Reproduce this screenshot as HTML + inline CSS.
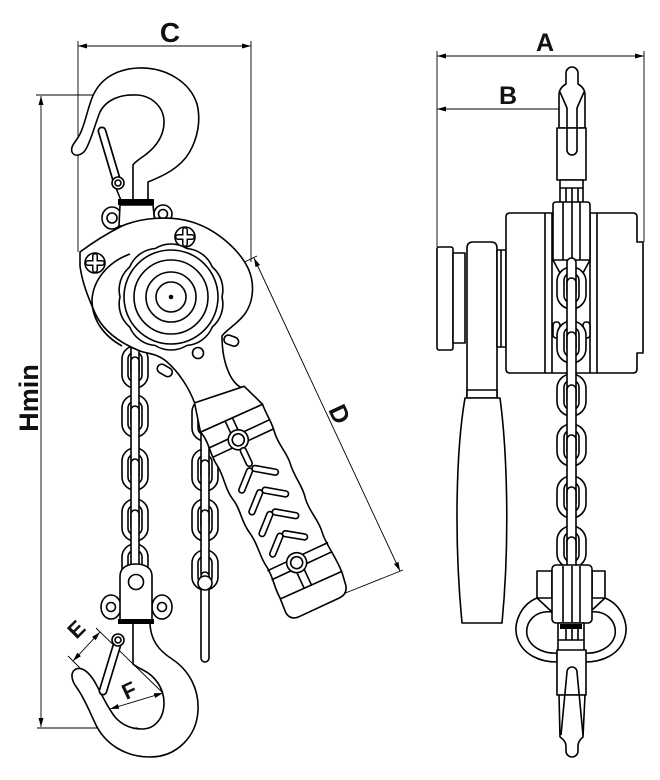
<!DOCTYPE html>
<html><head><meta charset="utf-8"><style>
html,body{margin:0;padding:0;background:#fff;}
svg{display:block;}
text{font-family:"Liberation Sans",Arial,sans-serif;font-weight:bold;fill:#111;}
</style></head><body>
<svg width="660" height="780" viewBox="0 0 660 780" xmlns="http://www.w3.org/2000/svg">
<defs>
<marker id="a" markerUnits="userSpaceOnUse" markerWidth="9" markerHeight="5" refX="9" refY="2.5" orient="auto-start-reverse" viewBox="0 0 9 5"><path d="M0,0 L9,2.5 L0,5 Z" fill="#000"/></marker>
</defs>

<!-- dimension lines -->
<g fill="none" stroke="#000" stroke-width="0.9">
 <line x1="78" y1="46" x2="251" y2="46" marker-start="url(#a)" marker-end="url(#a)"/>
 <line x1="78" y1="41" x2="78" y2="252"/>
 <line x1="251" y1="41" x2="251" y2="262"/>
 <line x1="41" y1="96" x2="41" y2="727" marker-start="url(#a)" marker-end="url(#a)"/>
 <line x1="36" y1="95" x2="140" y2="95"/>
 <line x1="37" y1="728" x2="138" y2="728"/>
 <line x1="171" y1="297" x2="257" y2="256"/>
 <line x1="254" y1="258" x2="400" y2="571" marker-start="url(#a)" marker-end="url(#a)"/>
 <line x1="403" y1="570" x2="343" y2="594"/>
 <line x1="437" y1="56" x2="644" y2="56" marker-start="url(#a)" marker-end="url(#a)"/>
 <line x1="437" y1="51" x2="437" y2="247"/>
 <line x1="644" y1="51" x2="644" y2="242"/>
 <line x1="437" y1="109" x2="571" y2="109" marker-start="url(#a)" marker-end="url(#a)"/>
 <line x1="571" y1="100" x2="571" y2="192"/>
 <line x1="100" y1="632" x2="73" y2="661" marker-start="url(#a)" marker-end="url(#a)"/>
 <line x1="96" y1="628" x2="164" y2="694"/>
 <line x1="68" y1="656" x2="80" y2="668"/>
 <line x1="110" y1="709" x2="163" y2="693" marker-start="url(#a)" marker-end="url(#a)"/>
</g>

<g fill="#fff" stroke="#000" stroke-width="1.6" stroke-linejoin="round">
 <!-- LEFT VIEW: load chain -->
 <rect x="122" y="346" width="26" height="42" rx="13"/><rect x="128" y="352" width="14" height="30" rx="7"/>
 <rect x="122" y="395" width="26" height="42" rx="13"/><rect x="128" y="401" width="14" height="30" rx="7"/>
 <rect x="122" y="448" width="26" height="42" rx="13"/><rect x="128" y="454" width="14" height="30" rx="7"/>
 <rect x="122" y="499" width="26" height="42" rx="13"/><rect x="128" y="505" width="14" height="30" rx="7"/>
 <rect x="122" y="544" width="26" height="42" rx="13"/><rect x="128" y="550" width="14" height="30" rx="7"/>
 <rect x="131" y="340" width="8" height="37" rx="4"/>
 <rect x="131" y="357" width="8" height="69" rx="4"/>
 <rect x="131" y="406" width="8" height="73" rx="4"/>
 <rect x="131" y="459" width="8" height="71" rx="4"/>
 <rect x="131" y="510" width="8" height="65" rx="4"/>

 <!-- hand chain -->
 <rect x="192" y="399" width="26" height="42" rx="13"/><rect x="198" y="405" width="14" height="30" rx="7"/>
 <rect x="192" y="449" width="26" height="42" rx="13"/><rect x="198" y="455" width="14" height="30" rx="7"/>
 <rect x="192" y="499" width="26" height="42" rx="13"/><rect x="198" y="505" width="14" height="30" rx="7"/>
 <rect x="192" y="550" width="26" height="40" rx="13"/><rect x="198" y="556" width="14" height="28" rx="7"/>
 <rect x="201" y="405" width="8" height="75" rx="4"/>
 <rect x="201" y="460" width="8" height="70" rx="4"/>
 <rect x="201" y="510" width="8" height="68" rx="4"/>
 <rect x="201" y="572" width="8" height="90" rx="4"/>
 <circle cx="205" cy="583" r="7"/>

 <!-- top hook -->
 <path d="M148,203 L148,182 C163,176 180,168 189,153 C198,138 201,120 197,104 C190,82 166,67 138,68 C115,69 99,80 92,98 C87,111 85,124 80,134 C76,142 70,146 72,152 C74,157 82,156 86,149 C92,138 95,124 100,112 C106,100 120,94 137,95 C153,96 164,108 164,122 C164,138 153,150 141,158 C137,161 134,163 133,165 L133,203"/>
 <path d="M116,188 L122,203" fill="none"/>
 <line x1="102" y1="131" x2="116" y2="178" stroke-width="9" stroke-linecap="round"/>
 <line x1="102" y1="131" x2="116" y2="178" stroke="#fff" stroke-width="5.6" stroke-linecap="round"/>
 <circle cx="118" cy="183" r="6"/><circle cx="118" cy="183" r="3"/>

 <!-- top bracket -->
 <ellipse cx="112" cy="218" rx="10" ry="11"/><circle cx="112" cy="218" r="5"/>
 <ellipse cx="163" cy="214" rx="9" ry="9"/><circle cx="163" cy="214" r="4.5"/>
 <path d="M120,205 L153,205 L155,224 L119,226 Z"/>
 <rect x="118" y="199" width="36" height="6" fill="#000" stroke="none"/>

 <!-- small tabs -->
 <rect x="224" y="336" width="15" height="9" rx="4.5" transform="rotate(20 231 340)"/>
 <rect x="157" y="366" width="16" height="9" rx="4.5" transform="rotate(30 165 370)"/>

 <!-- body + lever arm -->
 <path d="M80,252 C92,243 108,233 122,226 C140,218 170,215 192,222 C215,229 238,248 248,268 C255,283 254,302 244,315 C236,325 226,330 222,336 C222,348 224,362 229,373 C232,380 236,385 242,388 L195,404 C190,390 180,373 166,361 C156,353 148,354 140,351 C120,343 103,331 95,313 C88,297 82,282 80,266 Z"/>
 <path d="M130,254 C108,262 93,280 92,300 C92,320 104,336 122,346" fill="none"/>
 <circle cx="198" cy="353" r="5.5"/>

 <!-- screws -->
 <circle cx="95" cy="263" r="10"/>
 <path d="M88,263 H102 M95,256 V270" stroke-width="6" stroke-linecap="round"/>
 <path d="M88,263 H102 M95,256 V270" stroke="#fff" stroke-width="3" stroke-linecap="round"/>
 <circle cx="185" cy="237" r="10"/>
 <path d="M178,237 H192 M185,230 V244" stroke-width="6" stroke-linecap="round"/>
 <path d="M178,237 H192 M185,230 V244" stroke="#fff" stroke-width="3" stroke-linecap="round"/>

 <!-- wheel -->
 <path d="M222,297 A30,30 0 0 1 212.3,327 A30,30 0 0 1 186.8,345.5 A30,30 0 0 1 155.2,345.5 A30,30 0 0 1 129.7,327 A30,30 0 0 1 120,297 A30,30 0 0 1 129.7,267 A30,30 0 0 1 155.2,248.5 A30,30 0 0 1 186.8,248.5 A30,30 0 0 1 212.3,267 A30,30 0 0 1 222,297 Z"/>
 <circle cx="171" cy="297" r="47"/>
 <circle cx="171" cy="297" r="37"/>
 <circle cx="171" cy="297" r="25"/>
 <circle cx="171" cy="297" r="15"/>
 <circle cx="171" cy="297" r="1.5" fill="#000"/>

 <!-- handle -->
 <g transform="translate(230,415) rotate(-25)">
  <path d="M-34,3 L34,4 C33,15 35,25 33,35 C31,48 36,58 34,70 C32,84 36,95 33,108 C31,122 36,132 34,145 C32,158 36,170 35,190 L33,203 Q31,212 22,212 L-22,212 Q-32,212 -33,203 L-32,186 C-33,175 -29,165 -31,152 C-33,140 -29,128 -32,115 C-35,100 -30,90 -33,78 C-36,65 -31,52 -33,40 C-35,28 -30,15 -34,3 Z"/>
  <polygon points="-27,-26 25,-20 34,4 -34,3"/>
  <line x1="-32" y1="188" x2="35" y2="189"/>
  <g fill="none">
   <path d="M-33,21 H-11.7 M-33,31 H-11.7 M5.7,21 H33 M5.7,31 H33 M-7,3 V17 M1,3 V17"/>
   <path d="M-32,157 H-10.7 M-32,167 H-10.7 M6.7,157 H35 M6.7,167 H35 M-6,171 V188 M2,171 V188"/>
  </g>
  <circle cx="-3" cy="26" r="10"/><circle cx="-3" cy="26" r="6"/>
  <circle cx="-2" cy="162" r="10"/><circle cx="-2" cy="162" r="6"/>
  <g stroke-linecap="round">
   <path d="M-3,38 V52 M-6,59 L-21,73 M0,59 L17,71 M-6,83 L-21,97 M0,83 L17,95 M-6,107 L-21,121 M0,107 L17,119 M-6,131 L-20,144 M0,131 L16,142" stroke-width="7.5" fill="none"/>
   <path d="M-3,38 V52 M-6,59 L-21,73 M0,59 L17,71 M-6,83 L-21,97 M0,83 L17,95 M-6,107 L-21,121 M0,107 L17,119 M-6,131 L-20,144 M0,131 L16,142" stroke="#fff" stroke-width="4.3" fill="none"/>
  </g>
 </g>

 <!-- bottom block -->
 <ellipse cx="111" cy="607" rx="10" ry="12"/><circle cx="111" cy="607" r="4.5"/>
 <ellipse cx="162" cy="607" rx="10" ry="12"/><circle cx="162" cy="607" r="4.5"/>
 <path d="M120,622 L120,576 C120,568 127,564 136,564 C145,564 152,568 152,576 L152,622 Z"/>
 <circle cx="136" cy="582" r="7.5"/>
 <rect x="118" y="619" width="36" height="5" fill="#000" stroke="none"/>

 <!-- bottom hook -->
 <path d="M150,624 C151,640 158,650 172,659 C190,671 199,690 198,710 C197,736 177,757 150,757 C126,757 107,745 97,727 C90,713 85,699 77,688 C71,680 70,672 76,669 C84,666 92,676 97,686 C103,697 108,708 115,717 C122,725 131,729 142,729 C155,729 164,718 164,703 C164,688 155,676 143,670 C139,668 135,666 133,664 L133,624"/>
 <line x1="117" y1="645" x2="103" y2="691" stroke-width="9" stroke-linecap="round"/>
 <line x1="117" y1="645" x2="103" y2="691" stroke="#fff" stroke-width="5.6" stroke-linecap="round"/>
 <circle cx="118" cy="640" r="6"/><circle cx="118" cy="640" r="3"/>

 <!-- RIGHT VIEW -->
 <path d="M566,84 L566,73 A6,6 0 0 1 578,73 L578,84 Q585,88 585,95 L585,128 L559,128 L559,95 Q559,88 566,84 Z"/>
 <rect x="557" y="128" width="29" height="52"/>
 <path d="M560,92 L567,108 L567,150 A5,5 0 0 0 577,150 L577,108 L584,92" fill="none"/>
 <rect x="560" y="180" width="23" height="23"/>
 <path d="M560,188 H583 M566,188 V203 M572,188 V203 M578,188 V203" fill="none"/>

 <rect x="437" y="247" width="16" height="103" rx="2"/>
 <rect x="453" y="253" width="12" height="90"/>
 <path d="M467,398 L467,248 Q467,242 473,242 L491,242 Q497,242 497,248 L497,398"/>
 <rect x="497" y="250" width="9" height="97"/>
 <line x1="501" y1="250" x2="501" y2="347"/>
 <rect x="467" y="390" width="30" height="8"/>
 <path d="M465,398 L500,398 C507,450 510,540 502,623 L462,623 C454,540 456,450 465,398 Z"/>

 <path d="M510,213 L633,213 Q637,213 637,217 L637,242 L643,242 L643,353 L637,353 L637,369 Q637,373 633,373 L510,373 Q506,373 506,369 L506,217 Q506,213 510,213 Z"/>
 <path d="M545,213 V373 M552,213 V373 M590,213 V373 M597,213 V373" fill="none"/>
 <path d="M553,260 L553,205 Q553,202 556,202 L587,202 Q590,202 590,205 L590,260 Z"/>
 <path d="M563,202 V260 M572,202 V260 M580,202 V260" fill="none"/>
 <path d="M553,260 L560,273 M590,260 L583,273" fill="none"/>
 <rect x="553" y="322" width="7" height="16" rx="3"/>
 <rect x="583" y="322" width="7" height="16" rx="3"/>

 <rect x="557" y="267" width="29" height="42" rx="14.5"/><rect x="564" y="273" width="15" height="30" rx="7.5"/>
 <rect x="557" y="321" width="29" height="42" rx="14.5"/><rect x="564" y="327" width="15" height="30" rx="7.5"/>
 <rect x="557" y="374" width="29" height="42" rx="14.5"/><rect x="564" y="380" width="15" height="30" rx="7.5"/>
 <rect x="557" y="424" width="29" height="42" rx="14.5"/><rect x="564" y="430" width="15" height="30" rx="7.5"/>
 <rect x="557" y="476" width="29" height="42" rx="14.5"/><rect x="564" y="482" width="15" height="30" rx="7.5"/>
 <rect x="557" y="526" width="29" height="42" rx="14.5"/><rect x="564" y="532" width="15" height="30" rx="7.5"/>
 <rect x="567" y="258" width="9" height="40" rx="4.5"/>
 <rect x="567" y="278" width="9" height="74" rx="4.5"/>
 <rect x="567" y="332" width="9" height="73" rx="4.5"/>
 <rect x="567" y="385" width="9" height="70" rx="4.5"/>
 <rect x="567" y="435" width="9" height="72" rx="4.5"/>
 <rect x="567" y="487" width="9" height="70" rx="4.5"/>
 <rect x="567" y="537" width="9" height="35" rx="4.5"/>

 <path d="M537,598 C520,605 512,625 518,640 C524,655 540,662 557,662 L557,653 C545,654 530,648 527,635 C525,622 535,610 552,612 Z"/>
 <path d="M605,598 C622,605 630,625 624,640 C618,655 602,662 585,662 L585,653 C597,654 612,648 615,635 C617,622 607,610 590,612 Z"/>
 <rect x="537" y="571" width="15" height="27"/>
 <rect x="592" y="571" width="13" height="27"/>
 <rect x="552" y="565" width="40" height="58" rx="4"/>
 <path d="M563,566 V622 M572,566 V622 M580,566 V622" fill="none"/>
 <rect x="558" y="623" width="26" height="28"/>
 <rect x="560" y="624" width="22" height="5" fill="#000" stroke="none"/>
 <path d="M566,629 V640 M572,629 V640 M578,629 V640 M558,640 H584" fill="none"/>
 <rect x="557" y="650" width="29" height="45"/>
 <path d="M559,695 L560,737 Q566,741 566,746 L566,751 A6,6 0 0 0 578,751 L578,746 Q578,741 583,737 L585,695 Z"/>
 <path d="M561,735 L567,672 A5,5 0 0 1 577,672 L583,735" fill="none"/>
</g>

<text x="170" y="42" font-size="28" text-anchor="middle">C</text>
<text x="545" y="51" font-size="25" text-anchor="middle">A</text>
<text x="508" y="104" font-size="25" text-anchor="middle">B</text>
<text transform="translate(38,398) rotate(-90)" font-size="27" text-anchor="middle">Hmin</text>
<text transform="translate(340,414) rotate(65)" font-size="25" text-anchor="middle" dy="9">D</text>
<text transform="translate(76,629) rotate(-45)" font-size="22" text-anchor="middle" dy="8">E</text>
<text transform="translate(129,690) rotate(-25)" font-size="22" text-anchor="middle" dy="8">F</text>
</svg>
</body></html>
